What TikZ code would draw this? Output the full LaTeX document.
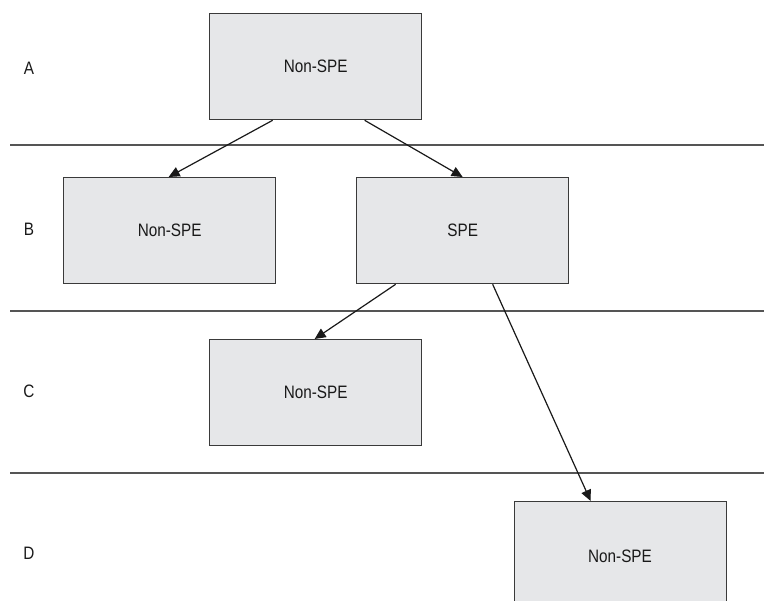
\documentclass[tikz,border=0pt]{standalone}
\usepackage{fontspec}
\setmainfont{Liberation Sans}[FakeStretch=0.85]
\usetikzlibrary{arrows.meta}
\definecolor{boxfill}{HTML}{E6E7E9}
\definecolor{boxline}{HTML}{3A3A3A}
\definecolor{rule}{HTML}{555555}
\begin{document}
\begin{tikzpicture}[x=1pt,y=-1pt,
  stage/.style={draw=boxline,line width=1.3pt,fill=boxfill,minimum width=212pt,minimum height=106pt,inner sep=0pt,font=\fontsize{18}{21}\selectfont,text=black!90,anchor=north west},
  lev/.style={font=\fontsize{18}{21}\selectfont,text=black!90},
  sep/.style={draw=rule,line width=1.2pt},
  conn/.style={draw=black!90,line width=1.2pt,-{Triangle[length=11pt,width=10pt]}}]
\useasboundingbox (0,0) rectangle (764,601);
\begin{scope}
\clip (0,0) rectangle (764,601);
% separators
\coordinate (s1l) at (10,145); \coordinate (s1r) at (764,145);
\coordinate (s2l) at (10,311); \coordinate (s2r) at (764,311);
\coordinate (s3l) at (10,473); \coordinate (s3r) at (764,473);
\draw[sep] (s1l) -- (s1r);
\draw[sep] (s2l) -- (s2r);
\draw[sep] (s3l) -- (s3r);
% boxes
\node[stage] (A) at (209,13) {Non-SPE};
\node[stage] (B1) at (63,177) {Non-SPE};
\node[stage] (B2) at (356,177) {SPE};
\node[stage] (C) at (209,339) {Non-SPE};
\node[stage,minimum height=120pt] (D) at (514,501) {};
\node[font=\fontsize{18}{21}\selectfont,text=black!90] (Dt) at (620,556) {Non-SPE};
% level labels
\node[lev] (LA) at (29,68) {A};
\node[lev] (LB) at (29,229) {B};
\node[lev] (LC) at (29,391) {C};
\node[lev] (LD) at (29,553) {D};
% connectors
\draw[conn] ([xshift=-43pt]A.south) -- ([xshift=-1pt]B1.north);
\draw[conn] ([xshift=49pt]A.south) -- (B2.north);
\draw[conn] ([xshift=-67pt]B2.south) -- ([xshift=-1pt]C.north);
\draw[conn] ([xshift=30pt]B2.south) -- ([xshift=-30pt]D.north);
\end{scope}
\end{tikzpicture}
\end{document}
